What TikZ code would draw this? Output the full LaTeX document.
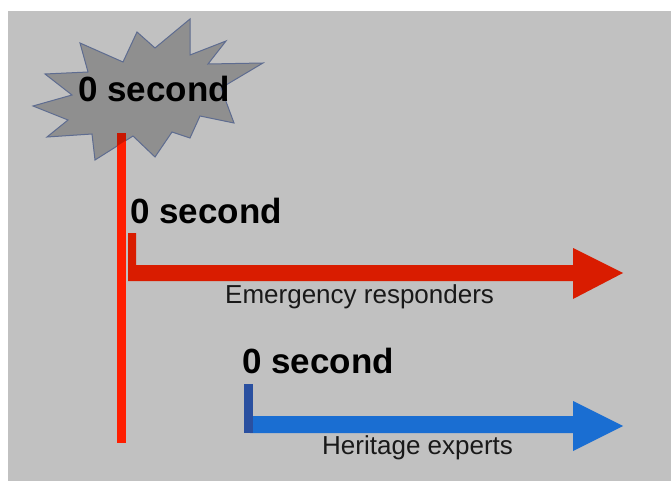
\documentclass[tikz,border=0pt]{standalone}
\usepackage{fontspec}
\setmainfont{Liberation Sans}
\definecolor{slidegray}{HTML}{C1C1C1}
\definecolor{burstfill}{HTML}{8F8F8F}
\definecolor{burstline}{HTML}{5E6C90}
\definecolor{axisred}{HTML}{FF1E00}
\definecolor{axisdark}{HTML}{C81600}
\definecolor{emred}{HTML}{D91C00}
\definecolor{hexblue}{HTML}{1A6ED2}
\definecolor{hextick}{HTML}{2A50A0}
\tikzset{
  big/.style={font=\fontsize{35}{40}\selectfont\bfseries, text=black, inner sep=0pt},
  small/.style={font=\fontsize{26}{30}\selectfont, text=black!90, inner sep=0pt},
}
% outline of the starburst
\def\burstpath{(190,19) -- (190,55) -- (226,41) -- (208,64) -- (263,63) -- (221,88)
  -- (234,123) -- (200,116) -- (190,138) -- (172,132) -- (155,157) -- (133,136)
  -- (95,160) -- (92,134) -- (47,137) -- (68,120) -- (33,106) -- (72,95)
  -- (45,74) -- (88,72) -- (80,43) -- (123,62) -- (137,32) -- (155,48) -- cycle}
\begin{document}
\begin{tikzpicture}[x=1pt, y=-1pt]
  % page and slide background
  \fill[white] (0,0) rectangle (671,481);
  \useasboundingbox (0,0) rectangle (671,481);
  \fill[slidegray] (8,11) rectangle (671,481);

  % starburst
  \filldraw[fill=burstfill, draw=burstline, line width=1pt] \burstpath;

  % main time axis
  \fill[axisred] (117,133) rectangle (126,443);
  \begin{scope}
    \clip \burstpath;
    \fill[axisdark] (117,133) rectangle (126,443);
  \end{scope}

  \node[big, anchor=base west] (t0) at (78,102) {0 second};

  % emergency responders arrow
  \fill[emred] (128,233) -- (136,233) -- (136,265) -- (573,265) -- (573,248)
    -- (623,273) -- (573,299) -- (573,281) -- (128,281) -- cycle;
  \node[big, anchor=base west] (t1) at (130,223) {0 second};
  \node[small, anchor=base west] (em) at (225,303) {Emergency responders};

  % heritage experts arrow
  \fill[hexblue] (250,416) -- (573,416) -- (573,401) -- (623,426)
    -- (573,451) -- (573,433) -- (250,433) -- cycle;
  \fill[hextick] (244,384) rectangle (253,433);
  \node[big, anchor=base west] (t2) at (242,373) {0 second};
  \node[small, anchor=base west] (he) at (322,454) {Heritage experts};
\end{tikzpicture}
\end{document}
